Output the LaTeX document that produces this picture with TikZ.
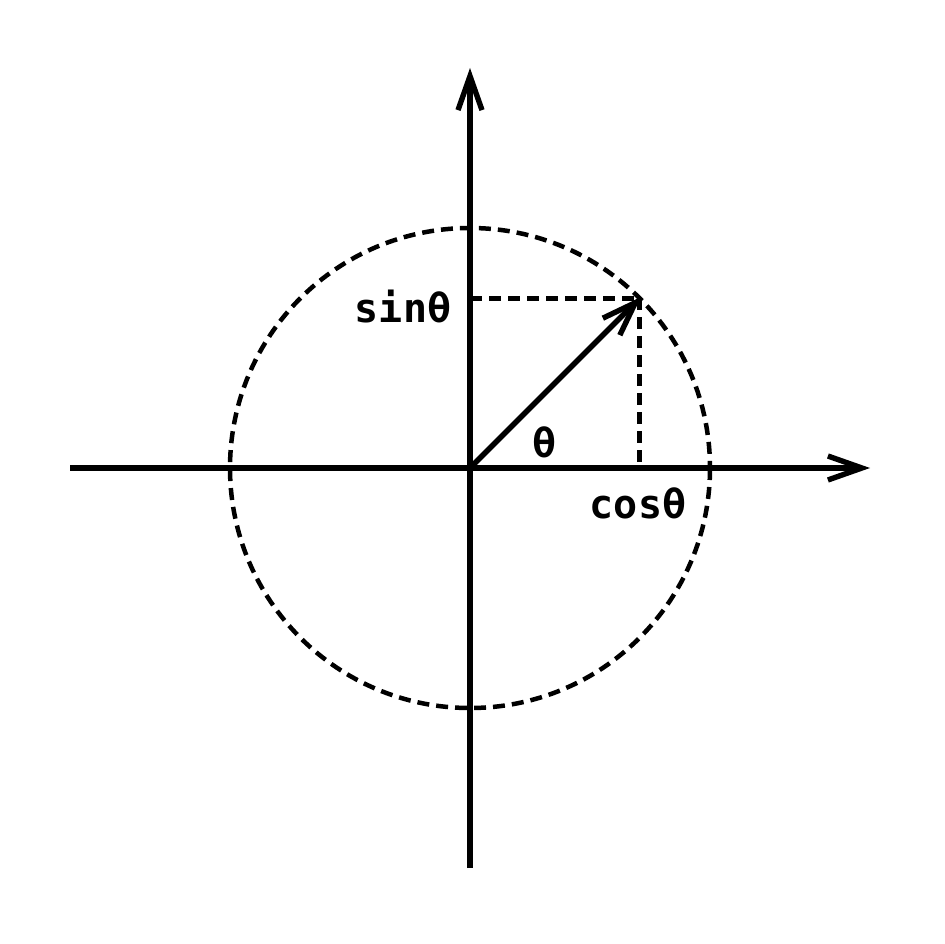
\documentclass[tikz,border=0pt]{standalone}
\usepackage{fontspec}
\setmonofont{DejaVu Sans Mono}
\usetikzlibrary{arrows.meta}
\begin{document}
\begin{tikzpicture}[x=1pt,y=-1pt,
  axis/.style={line width=5.4pt,-{Straight Barb[length=34pt,width=24pt,line width=5.4pt]}},
  dashline/.style={line width=4.5pt,dash pattern=on 12pt off 7pt},
  lbl/.style={font=\fontsize{40}{40}\selectfont\ttfamily\bfseries,inner sep=0pt}]
\useasboundingbox (0,0) rectangle (944,944);
\coordinate (O) at (470,468);
\coordinate (xl) at (70,468);
\coordinate (xr) at (870,468);
\coordinate (yb) at (470,868);
\coordinate (yt) at (470,68);
\coordinate (P) at (639.7,298.3);
\coordinate (Px) at (639.7,468);
\coordinate (Py) at (470,298.3);
\draw[dashline] (O) circle (240);
\draw[dashline] (Py) -- (P);
\draw[dashline] (P) -- (Px);
\draw[axis] (xl) -- (xr);
\draw[axis] (yb) -- (yt);
\draw[axis,shorten >=-2pt] (O) -- (P);
\node[lbl] (s) at (403,307) {sinθ};
\node[lbl] (c) at (638,503) {cosθ};
\node[lbl] (t) at (545,442) {θ};
\end{tikzpicture}
\end{document}
